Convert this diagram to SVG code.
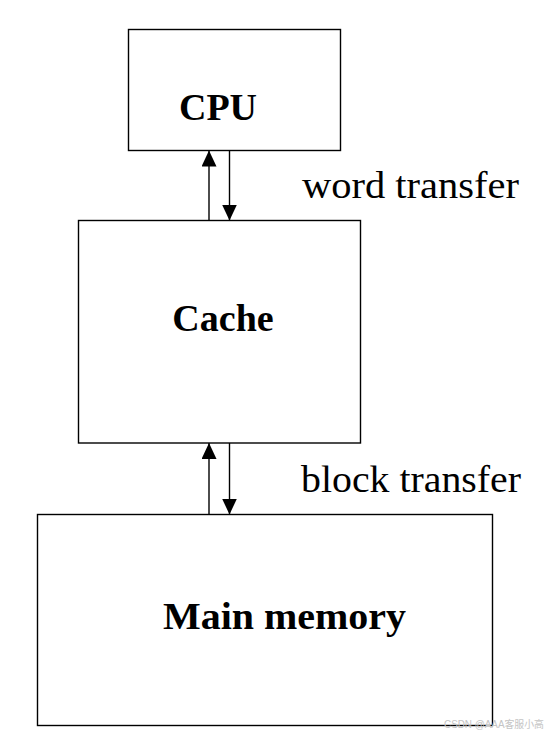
<svg xmlns="http://www.w3.org/2000/svg" width="552" height="736" viewBox="0 0 552 736">
<style>
.box{fill:#fff;stroke:#000;stroke-width:1.4}
.lbl{font-family:"Liberation Serif","Times New Roman",serif;font-weight:bold;font-size:38px;fill:#000;text-anchor:middle}
.note{font-family:"Liberation Serif","Times New Roman",serif;font-size:37px;fill:#000}
.wm{font-family:"Liberation Sans","Noto Sans CJK SC",sans-serif;font-size:10.5px;fill:#c4c4c4}
.conn line{stroke:#000;stroke-width:1.4}
</style>
<defs>
<marker id="ah" markerUnits="userSpaceOnUse" markerWidth="16" markerHeight="15" refX="16" refY="7.5" orient="auto">
<path d="M0,0 L16,7.5 L0,15 z" fill="#000"/>
</marker>
</defs>
<rect width="552" height="736" fill="#fff"/>
<g id="cpu">
<rect class="box" x="128.5" y="29.5" width="212" height="121"/>
<text class="lbl" x="218" y="120">CPU</text>
</g>
<g id="cache">
<rect class="box" x="78.5" y="220.5" width="282" height="222.5"/>
<text class="lbl" x="223" y="331">Cache</text>
</g>
<g id="main-memory">
<rect class="box" x="37.5" y="514.5" width="455" height="211"/>
<text class="lbl" x="284.5" y="629" textLength="243" lengthAdjust="spacingAndGlyphs">Main memory</text>
</g>
<g id="connectors" class="conn">
<line x1="209" y1="220.5" x2="209" y2="150.5" marker-end="url(#ah)"/>
<line x1="229.5" y1="150.5" x2="229.5" y2="220.5" marker-end="url(#ah)"/>
<line x1="209" y1="514.5" x2="209" y2="443" marker-end="url(#ah)"/>
<line x1="229.5" y1="443" x2="229.5" y2="514.5" marker-end="url(#ah)"/>
</g>
<text class="note" x="302" y="198" textLength="217" lengthAdjust="spacingAndGlyphs">word transfer</text>
<text class="note" x="301" y="492" textLength="220" lengthAdjust="spacingAndGlyphs">block transfer</text>
<text class="wm" x="444" y="728" textLength="100" lengthAdjust="spacingAndGlyphs">CSDN @AAA客服小高</text>
</svg>
